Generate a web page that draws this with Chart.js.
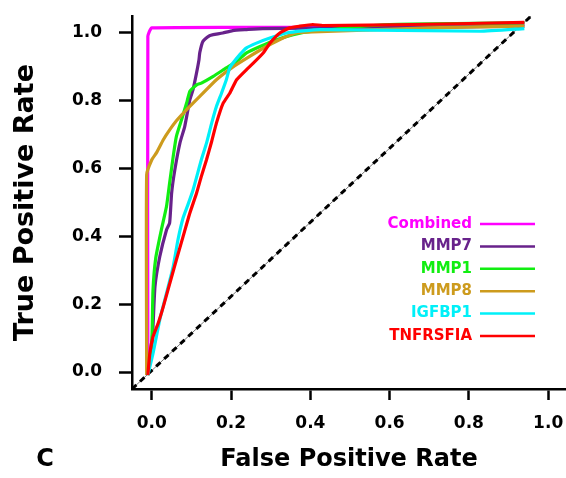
<!DOCTYPE html>
<html>
<head>
<meta charset="utf-8">
<script src="https://cdn.jsdelivr.net/npm/chart.js@4.4.1/dist/chart.umd.min.js"></script>
<style>
  body { margin: 0; background: #fff; }
  canvas { display: block; }
</style>
</head>
<body>
<canvas id="roc" width="566" height="478"></canvas>
<script>
const xTicks = [0, 0.2, 0.4, 0.6, 0.8, 1.0];
const yTicks = [0, 0.2, 0.4, 0.6, 0.8, 1.0];

const seriesNames = ["Combined", "MMP7", "MMP1", "MMP8", "IGFBP1", "TNFRSFIA"];
const seriesColors = ["#ff00ff", "#68228b", "#11ee11", "#cd9b1d", "#00f0f8", "#ff0000"];

// (FPR, TPR)
const fprCombined = [-0.01, -0.01, 0.0, 0.5, 0.94];
const tprCombined = [-0.005, 0.99, 1.015, 1.016, 1.025];

const fprMMP7 = [-0.01, 0.0, 0.003, 0.008, 0.02, 0.037, 0.045, 0.05, 0.058, 0.071, 0.083, 0.096, 0.104, 0.113, 0.119, 0.121, 0.129, 0.146, 0.155, 0.179, 0.204, 0.239, 0.28, 0.5, 0.94];
const tprMMP7 = [-0.009, 0.075, 0.134, 0.252, 0.34, 0.419, 0.44, 0.528, 0.596, 0.676, 0.724, 0.803, 0.833, 0.883, 0.921, 0.942, 0.975, 0.992, 0.995, 1.0, 1.007, 1.01, 1.013, 1.015, 1.02];

const fprMMP1 = [-0.01, 0.0, 0.003, 0.01, 0.024, 0.037, 0.045, 0.054, 0.062, 0.075, 0.088, 0.096, 0.113, 0.125, 0.155, 0.188, 0.214, 0.239, 0.273, 0.315, 0.357, 0.406, 0.6, 0.94];
const tprMMP1 = [-0.009, 0.094, 0.242, 0.337, 0.419, 0.488, 0.558, 0.636, 0.695, 0.744, 0.794, 0.828, 0.847, 0.852, 0.872, 0.897, 0.916, 0.941, 0.96, 0.98, 0.995, 1.005, 1.025, 1.03];

const fprMMP8 = [-0.013, -0.013, 0.0, 0.012, 0.029, 0.045, 0.062, 0.088, 0.121, 0.163, 0.205, 0.247, 0.289, 0.331, 0.365, 0.406, 0.7, 0.94];
const tprMMP8 = [-0.009, 0.582, 0.626, 0.647, 0.685, 0.714, 0.741, 0.774, 0.813, 0.862, 0.9, 0.931, 0.96, 0.985, 1.0, 1.003, 1.015, 1.02];

const fprIGFBP1 = [-0.01, 0.003, 0.02, 0.037, 0.054, 0.066, 0.079, 0.091, 0.104, 0.125, 0.138, 0.151, 0.163, 0.176, 0.188, 0.197, 0.222, 0.239, 0.264, 0.298, 0.34, 0.424, 0.828, 0.94];
const tprIGFBP1 = [-0.009, 0.055, 0.154, 0.232, 0.311, 0.39, 0.455, 0.493, 0.537, 0.626, 0.675, 0.734, 0.783, 0.823, 0.862, 0.898, 0.936, 0.956, 0.97, 0.985, 1.0, 1.01, 1.005, 1.013];

const fprTNFRSFIA = [-0.01, -0.005, 0.003, 0.016, 0.029, 0.05, 0.062, 0.079, 0.096, 0.113, 0.125, 0.138, 0.151, 0.163, 0.18, 0.197, 0.214, 0.239, 0.256, 0.281, 0.298, 0.323, 0.348, 0.373, 0.406, 0.431, 0.659, 0.94];
const tprTNFRSFIA = [-0.009, 0.055, 0.104, 0.144, 0.193, 0.281, 0.331, 0.4, 0.469, 0.528, 0.577, 0.626, 0.68, 0.734, 0.793, 0.823, 0.862, 0.892, 0.911, 0.941, 0.97, 1.0, 1.015, 1.02, 1.025, 1.022, 1.025, 1.031];

const refFpr = [-0.05, 0.957];
const refTpr = [-0.05, 1.05];

const allFpr = [fprCombined, fprMMP7, fprMMP1, fprMMP8, fprIGFBP1, fprTNFRSFIA];
const allTpr = [tprCombined, tprMMP7, tprMMP1, tprMMP8, tprIGFBP1, tprTNFRSFIA];

function pts(xs, ys) {
  return xs.map((x, i) => ({ x: x, y: ys[i] }));
}

const FONT = "'DejaVu Sans', sans-serif";

const datasets = seriesNames.map((name, i) => ({
  label: name,
  data: pts(allFpr[i], allTpr[i]),
  borderColor: seriesColors[i],
  borderWidth: 3.2,
  pointRadius: 0,
  tension: 0.15,
  order: seriesNames.length - i
}));

datasets.push({
  label: "ref",
  data: pts(refFpr, refTpr),
  borderColor: "#777",
  borderWidth: 1,
  pointRadius: 0,
  order: 20
});
datasets.push({
  label: "ref-dash",
  data: pts(refFpr, refTpr),
  borderColor: "#000",
  borderWidth: 3,
  borderDash: [6, 5],
  pointRadius: 0,
  order: 19
});

const rocLegend = {
  id: "rocLegend",
  afterDatasetsDraw(chart) {
    const ctx = chart.ctx;
    ctx.save();
    ctx.font = "bold 15px " + FONT;
    ctx.textAlign = "right";
    ctx.textBaseline = "middle";
    seriesNames.forEach((name, i) => {
      const y = 224 + i * 22.4;
      ctx.fillStyle = seriesColors[i];
      ctx.fillText(name, 472, y);
      ctx.strokeStyle = seriesColors[i];
      ctx.lineWidth = 2.5;
      ctx.beginPath();
      ctx.moveTo(480, y);
      ctx.lineTo(535, y);
      ctx.stroke();
    });
    ctx.fillStyle = "#000";
    ctx.textAlign = "center";
    ctx.font = "bold 24px " + FONT;
    ctx.fillText("C", 45, 460);
    ctx.restore();
  }
};

function noPad(s) {
  s.paddingLeft = 0;
  s.paddingRight = 0;
  s.paddingTop = 0;
  s.paddingBottom = 0;
}

new Chart(document.getElementById("roc"), {
  type: "line",
  data: { datasets },
  options: {
    responsive: false,
    animation: false,
    devicePixelRatio: 1,
    layout: { padding: { left: 0, right: 0, top: 16, bottom: 0 } },
    plugins: { legend: { display: false }, tooltip: { enabled: false } },
    scales: {
      x: {
        type: "linear",
        min: -0.05,
        max: 1.045,
        afterBuildTicks: s => { s.ticks = xTicks.map(v => ({ value: v })); },
        afterFit: s => { s.height = 89; noPad(s); },
        ticks: {
          callback: v => v.toFixed(1),
          color: "#000",
          font: { family: FONT, size: 17, weight: "bold" },
          padding: 13,
          maxRotation: 0,
          autoSkip: false
        },
        grid: { drawOnChartArea: false, drawTicks: true, tickLength: 11, tickWidth: 2.5, tickColor: "#000", color: "#000" },
        border: { display: true, color: "#000", width: 2.5 },
        title: {
          display: true,
          text: "False Positive Rate",
          color: "#000",
          font: { family: FONT, size: 24, weight: "bold" },
          padding: { top: 0, bottom: 4 }
        }
      },
      y: {
        type: "linear",
        min: -0.05,
        max: 1.05,
        afterBuildTicks: s => { s.ticks = yTicks.map(v => ({ value: v })); },
        afterFit: s => { s.width = 132; noPad(s); },
        ticks: {
          callback: v => v.toFixed(1),
          color: "#000",
          font: { family: FONT, size: 17, weight: "bold" },
          padding: 17,
          autoSkip: false
        },
        grid: { drawOnChartArea: false, drawTicks: true, tickLength: 13, tickWidth: 2.5, tickColor: "#000", color: "#000" },
        border: { display: true, color: "#000", width: 2.5 },
        title: {
          display: true,
          text: "True Positive Rate",
          color: "#000",
          font: { family: FONT, size: 27, weight: "bold" },
          padding: { top: 10, bottom: 0 }
        }
      }
    }
  },
  plugins: [rocLegend]
});
</script>
</body>
</html>
